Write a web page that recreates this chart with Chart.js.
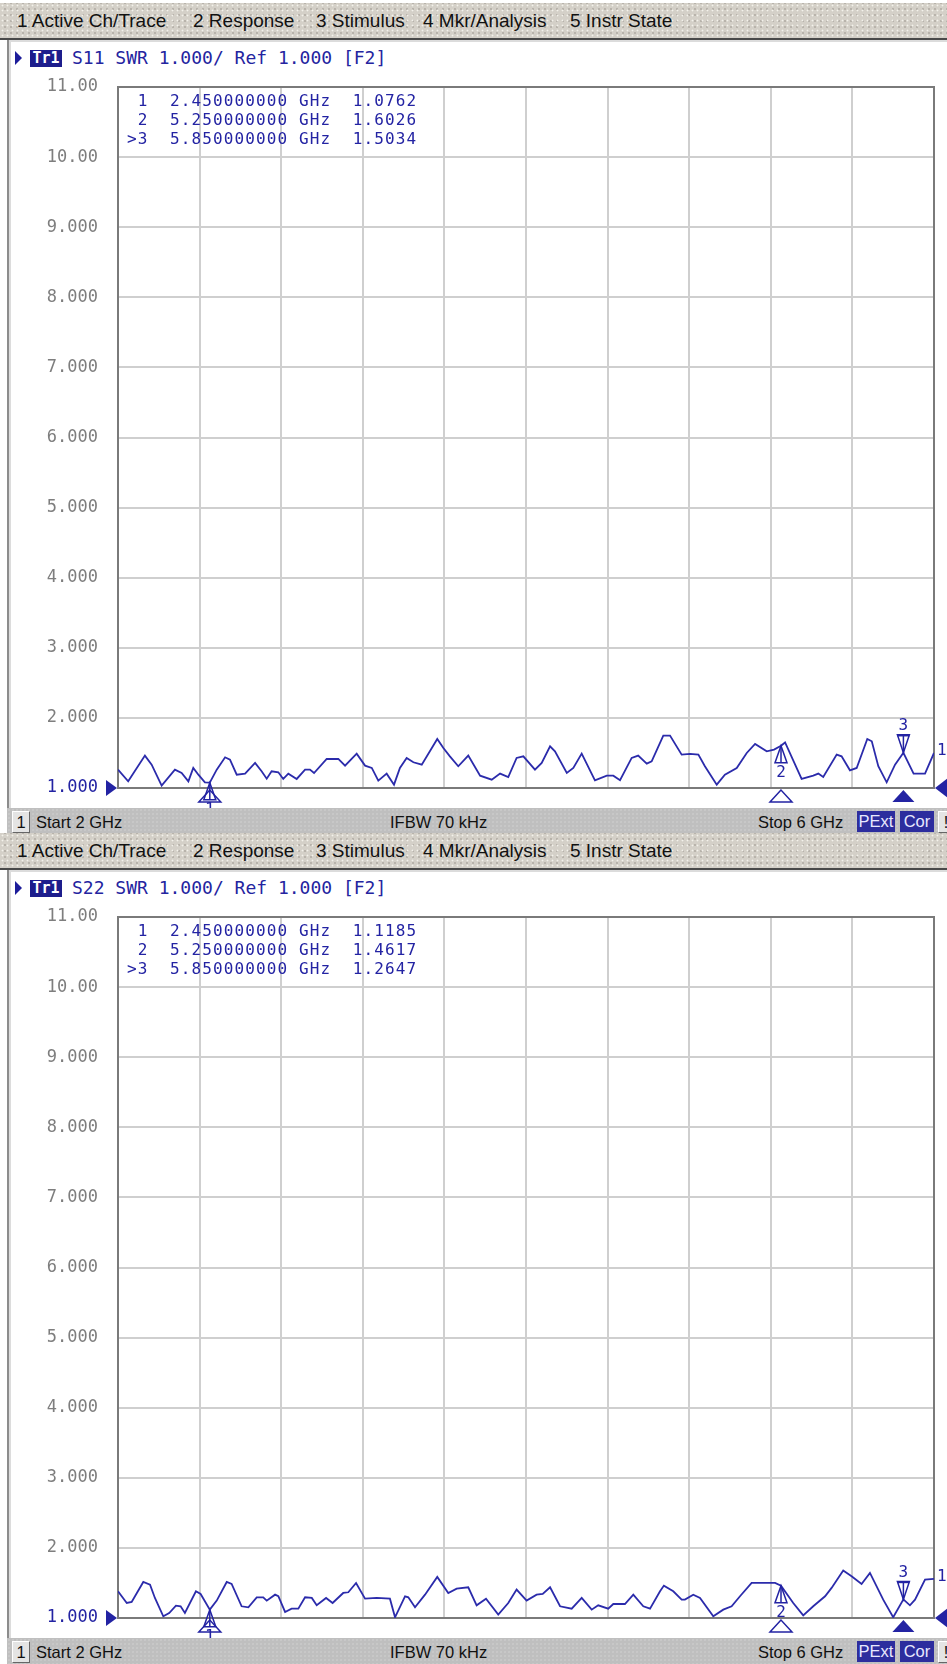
<!DOCTYPE html>
<html>
<head>
<meta charset="utf-8">
<script src="https://cdn.jsdelivr.net/npm/chart.js@4.4.1/dist/chart.umd.min.js"></script>
<style>
html,body{margin:0;padding:0;}
body{width:947px;height:1664px;overflow:hidden;background:#fff;position:relative;}
.panel{position:absolute;left:0;width:947px;height:838px;overflow:hidden;}
.menu{position:absolute;left:0;top:3px;width:947px;height:35px;background-color:#d4d0c8;
 background-image:radial-gradient(circle,#f4f2ec 0 0.8px,transparent 1.1px),radial-gradient(circle,#aeaaa2 0 0.6px,transparent 1px);
 background-size:5px 5px,6px 6px;background-position:0 0,2px 3px;border-bottom:2px solid #4a4a4a;}
.menu span{position:absolute;top:50%;transform:translateY(-50%);font:19px "Liberation Sans",Arial,sans-serif;color:#111;white-space:pre;}
.frame{position:absolute;left:7px;top:40px;right:0;height:768px;background:#fff;border-left:2px solid #8c8c8c;box-shadow:inset 2px 0 0 #dcdcdc, inset 0 2px 0 #dcdcdc;}
.ttri{position:absolute;left:15px;top:51px;width:0;height:0;border-left:7px solid #1d1d9a;border-top:7px solid transparent;border-bottom:7px solid transparent;}
.tr{position:absolute;left:30px;top:50px;width:32px;height:17px;background:#1d1d8c;color:#fff;font:bold 15px "DejaVu Sans Mono",monospace;line-height:17px;text-align:center;}
.ttl{position:absolute;left:72px;top:47px;font:18px "DejaVu Sans Mono",monospace;color:#2424a0;white-space:pre;line-height:22px;}
canvas{position:absolute;left:12px;top:70px;}
.status{position:absolute;left:7px;right:0;top:808px;height:28px;background-color:#bfbfbf;
 background-image:radial-gradient(circle,#cbcbcb 0 0.6px,transparent 1px);background-size:4px 4px;border-bottom:2px solid #3a3a3a;}
.status span{position:absolute;top:50%;transform:translateY(-50%);font:16.5px "Liberation Sans",Arial,sans-serif;color:#111;white-space:pre;}
.status .box{top:3px;transform:none;height:21px;line-height:21px;text-align:center;}
.status .chn{left:5px;width:16px;background:#e4e4e4;border:1px solid;border-color:#fff #666 #666 #fff;height:20px;line-height:20px;}
.status .pe{left:850px;width:38px;background:#2d2d9e;color:#e8e8ff;}
.status .co{left:893px;width:34px;background:#2d2d9e;color:#e8e8ff;}
.status .ex{left:931px;width:14px;background:#e4e4e4;border:1px solid;border-color:#fff #666 #666 #fff;height:20px;line-height:20px;}
</style>
</head>
<body>
<script>
// ---------------- data ----------------
const xGridGHz = [2.0, 2.4, 2.8, 3.2, 3.6, 4.0, 4.4, 4.8, 5.2, 5.6, 6.0];
const yTickValues = [1, 2, 3, 4, 5, 6, 7, 8, 9, 10, 11];
const yTickLabels = ['1.000','2.000','3.000','4.000','5.000','6.000','7.000','8.000','9.000','10.00','11.00'];
const menuItems = ['1 Active Ch/Trace', '2 Response', '3 Stimulus', '4 Mkr/Analysis', '5 Instr State'];
const params = ['S11', 'S22'];
const markerFreq = [2.45, 5.25, 5.85];
const activeMarker = 3;
const s11MarkerSwr = [1.0762, 1.6026, 1.5034];
const s22MarkerSwr = [1.1185, 1.4617, 1.2647];

const s11Freq = [2.0,2.050,2.132,2.165,2.214,2.279,2.312,2.345,2.369,2.394,
 2.426,2.450,2.484,2.525,2.549,2.582,2.623,2.672,2.704,2.729,
 2.753,2.786,2.810,2.835,2.876,2.917,2.941,2.961,3.023,3.080,
 3.113,3.170,3.211,3.244,3.276,3.317,3.353,3.382,3.415,3.448,
 3.489,3.565,3.595,3.627,3.668,3.717,3.775,3.832,3.873,3.913,
 3.954,3.987,4.044,4.077,4.118,4.142,4.200,4.232,4.273,4.338,
 4.396,4.428,4.461,4.518,4.550,4.592,4.616,4.673,4.706,4.763,
 4.804,4.845,4.877,4.935,4.975,5.033,5.082,5.123,5.180,5.216,
 5.250,5.270,5.351,5.408,5.433,5.457,5.523,5.547,5.588,5.621,
 5.673,5.695,5.727,5.768,5.809,5.850,5.900,5.956,6.000];
const s11Swr = [1.262,1.095,1.462,1.333,1.033,1.262,1.214,1.095,1.286,1.190,
 1.081,1.076,1.262,1.438,1.405,1.190,1.205,1.357,1.238,1.133,
 1.238,1.224,1.129,1.205,1.129,1.262,1.262,1.214,1.414,1.414,
 1.319,1.490,1.319,1.286,1.105,1.205,1.048,1.286,1.429,1.367,
 1.333,1.700,1.571,1.452,1.310,1.462,1.176,1.119,1.205,1.157,
 1.429,1.452,1.262,1.357,1.595,1.524,1.214,1.286,1.490,1.110,
 1.176,1.176,1.110,1.429,1.462,1.348,1.381,1.748,1.748,1.476,
 1.486,1.476,1.310,1.048,1.190,1.286,1.500,1.629,1.524,1.548,
 1.603,1.650,1.129,1.176,1.205,1.157,1.476,1.452,1.252,1.286,
 1.700,1.667,1.310,1.081,1.333,1.503,1.205,1.205,1.500];

const s22Freq = [2.0,2.043,2.067,2.124,2.157,2.181,2.222,2.251,2.284,2.307,
 2.328,2.382,2.405,2.450,2.484,2.533,2.557,2.606,2.639,2.680,
 2.712,2.729,2.770,2.786,2.819,2.851,2.884,2.917,2.950,2.974,
 3.020,3.052,3.104,3.129,3.167,3.211,3.268,3.333,3.358,3.407,
 3.423,3.456,3.505,3.565,3.619,3.660,3.717,3.758,3.804,3.864,
 3.913,3.954,4.003,4.052,4.082,4.118,4.167,4.224,4.273,4.322,
 4.354,4.403,4.428,4.485,4.526,4.575,4.608,4.657,4.676,4.722,
 4.763,4.779,4.820,4.853,4.918,4.967,5.008,5.049,5.106,5.221,
 5.250,5.310,5.359,5.408,5.466,5.498,5.555,5.596,5.645,5.686,
 5.751,5.800,5.850,5.882,5.907,5.956,6.000];
const s22Swr = [1.381,1.214,1.229,1.514,1.476,1.286,1.024,1.071,1.176,1.167,
 1.071,1.381,1.343,1.119,1.248,1.514,1.486,1.167,1.152,1.295,
 1.295,1.248,1.333,1.310,1.086,1.133,1.133,1.295,1.286,1.181,
 1.286,1.214,1.357,1.367,1.500,1.276,1.286,1.276,1.010,1.310,
 1.295,1.152,1.333,1.586,1.357,1.419,1.438,1.181,1.276,1.048,
 1.214,1.405,1.248,1.333,1.343,1.438,1.167,1.133,1.286,1.119,
 1.181,1.133,1.200,1.200,1.333,1.167,1.133,1.381,1.462,1.381,
 1.262,1.262,1.333,1.286,1.024,1.119,1.167,1.310,1.500,1.500,
 1.462,1.214,1.038,1.167,1.310,1.429,1.676,1.595,1.486,1.643,
 1.262,1.010,1.265,1.181,1.262,1.548,1.557];

// ---------------- layout / style ----------------
const BLUE = '#2323a3';
const TRACE = '#2b2bab';
const menuLeft = [17, 193, 316, 423, 570];
const panelTops = [0, 830];
const series = [
  {freq: s11Freq, swr: s11Swr, mk: s11MarkerSwr},
  {freq: s22Freq, swr: s22Swr, mk: s22MarkerSwr}
];

function panelHTML(i) {
  let h = '<div class="panel" style="top:' + panelTops[i] + 'px">';
  h += '<div class="menu">' + menuItems.map((t, k) => '<span style="left:' + menuLeft[k] + 'px">' + t + '</span>').join('') + '</div>';
  h += '<div class="frame"></div>';
  h += '<div class="ttri"></div><div class="tr">Tr1</div>';
  h += '<div class="ttl">' + params[i] + ' SWR 1.000/ Ref 1.000 [F2]</div>';
  h += '<canvas id="c' + i + '" width="935" height="738" style="width:935px;height:738px"></canvas>';
  h += '<div class="status"><span class="box chn">1</span><span style="left:29px">Start 2 GHz</span>' +
       '<span style="left:383px">IFBW 70 kHz</span><span style="left:751px">Stop 6 GHz</span>' +
       '<span class="box pe">PExt</span><span class="box co">Cor</span><span class="box ex">!</span></div>';
  h += '</div>';
  return h;
}
document.body.insertAdjacentHTML('beforeend', panelHTML(0) + panelHTML(1));

function tri(ctx, pts, fill) {
  ctx.beginPath();
  ctx.moveTo(pts[0], pts[1]); ctx.lineTo(pts[2], pts[3]); ctx.lineTo(pts[4], pts[5]); ctx.closePath();
  if (fill) ctx.fill(); else ctx.stroke();
}
function monoText(ctx, s, x, y, adv) {
  for (let k = 0; k < s.length; k++) ctx.fillText(s[k], x + k * adv, y);
}

const framePlugin = {
  id: 'frame',
  beforeDatasetsDraw(chart) {
    const {ctx, chartArea: a} = chart;
    ctx.save();
    ctx.strokeStyle = '#7a7a7a';
    ctx.lineWidth = 2;
    ctx.strokeRect(a.left, a.top, a.right - a.left, a.bottom - a.top);
    ctx.restore();
  }
};

function makeMarkerPlugin(s) {
  return {
    id: 'markers',
    afterDatasetsDraw(chart) {
      const {ctx, chartArea: a, scales: {x, y}} = chart;
      ctx.save();
      ctx.fillStyle = BLUE; ctx.strokeStyle = BLUE;
      ctx.textBaseline = 'middle';
      // marker table
      ctx.font = '16px "DejaVu Sans Mono", monospace';
      ctx.textAlign = 'left';
      markerFreq.forEach((f, i) => {
        const line = (i + 1 === activeMarker ? '>' : ' ') + (i + 1) + '  ' + f.toFixed(9) + ' GHz  ' + s.mk[i].toFixed(4);
        monoText(ctx, line, a.left + 9, a.top + 15 + i * 18.7, 10.75);
      });
      // marker symbols
      ctx.lineWidth = 1.5;
      ctx.textAlign = 'center';
      markerFreq.forEach((f, i) => {
        const px = x.getPixelForValue(f), py = y.getPixelForValue(s.mk[i]);
        const act = (i + 1 === activeMarker);
        if (act) {
          tri(ctx, [px, py, px - 6, py - 18, px + 6, py - 18], false);
          ctx.beginPath(); ctx.moveTo(px, py); ctx.lineTo(px, py - 18); ctx.stroke();
          ctx.beginPath(); ctx.moveTo(px - 6, py - 17); ctx.lineTo(px + 6, py - 17); ctx.stroke();
          ctx.fillText(String(i + 1), px, py - 27);
        } else {
          tri(ctx, [px, py, px - 6, py + 17, px + 6, py + 17], false);
          ctx.beginPath(); ctx.moveTo(px, py); ctx.lineTo(px, py + 17); ctx.stroke();
          ctx.fillText(String(i + 1), px, py + 27);
        }
        // stimulus indicator below the graticule
        tri(ctx, [px, a.bottom + 2, px - 11, a.bottom + 14, px + 11, a.bottom + 14], act);
      });
      // reference level arrows
      tri(ctx, [a.left - 1, a.bottom, a.left - 12, a.bottom - 8, a.left - 12, a.bottom + 8], true);
      tri(ctx, [a.right + 1, a.bottom, a.right + 14, a.bottom - 10, a.right + 14, a.bottom + 10], true);
      // trace label at end of trace
      ctx.textAlign = 'left';
      const last = s.swr[s.swr.length - 1];
      ctx.fillText('1', a.right + 3, y.getPixelForValue(last) - 2);
      ctx.restore();
    }
  };
}

series.forEach((s, i) => {
  new Chart(document.getElementById('c' + i), {
    type: 'line',
    data: {
      datasets: [{
        data: s.freq.map((f, k) => ({x: f, y: s.swr[k]})),
        borderColor: TRACE, borderWidth: 1.8, pointRadius: 0, fill: false, tension: 0
      }]
    },
    options: {
      responsive: false, animation: false, devicePixelRatio: 1,
      layout: {padding: {top: 17, right: 13, left: 0, bottom: 0}},
      plugins: {legend: {display: false}, tooltip: {enabled: false}},
      scales: {
        x: {
          type: 'linear', min: 2, max: 6,
          afterBuildTicks: sc => { sc.ticks = xGridGHz.map(v => ({value: v})); },
          ticks: {display: false},
          grid: {color: '#cfcfcf', lineWidth: 2, drawTicks: false},
          border: {display: false},
          afterFit: sc => { sc.height = 20; sc.paddingLeft = 0; sc.paddingRight = 0; sc.paddingTop = 0; sc.paddingBottom = 0; }
        },
        y: {
          type: 'linear', min: 1, max: 11,
          afterBuildTicks: sc => { sc.ticks = yTickValues.map(v => ({value: v})); },
          ticks: {
            callback: v => yTickLabels[yTickValues.indexOf(v)],
            color: c => (c.tick && c.tick.value === 1) ? BLUE : '#7e7e7e',
            font: {family: '"DejaVu Sans Mono", monospace', size: 17},
            padding: 20
          },
          grid: {color: '#cfcfcf', lineWidth: 2, drawTicks: false},
          border: {display: false},
          afterFit: sc => { sc.width = 106; sc.paddingTop = 0; sc.paddingBottom = 0; sc.paddingLeft = 0; sc.paddingRight = 0; }
        }
      }
    },
    plugins: [framePlugin, makeMarkerPlugin(s)]
  });
});
</script>
</body>
</html>
